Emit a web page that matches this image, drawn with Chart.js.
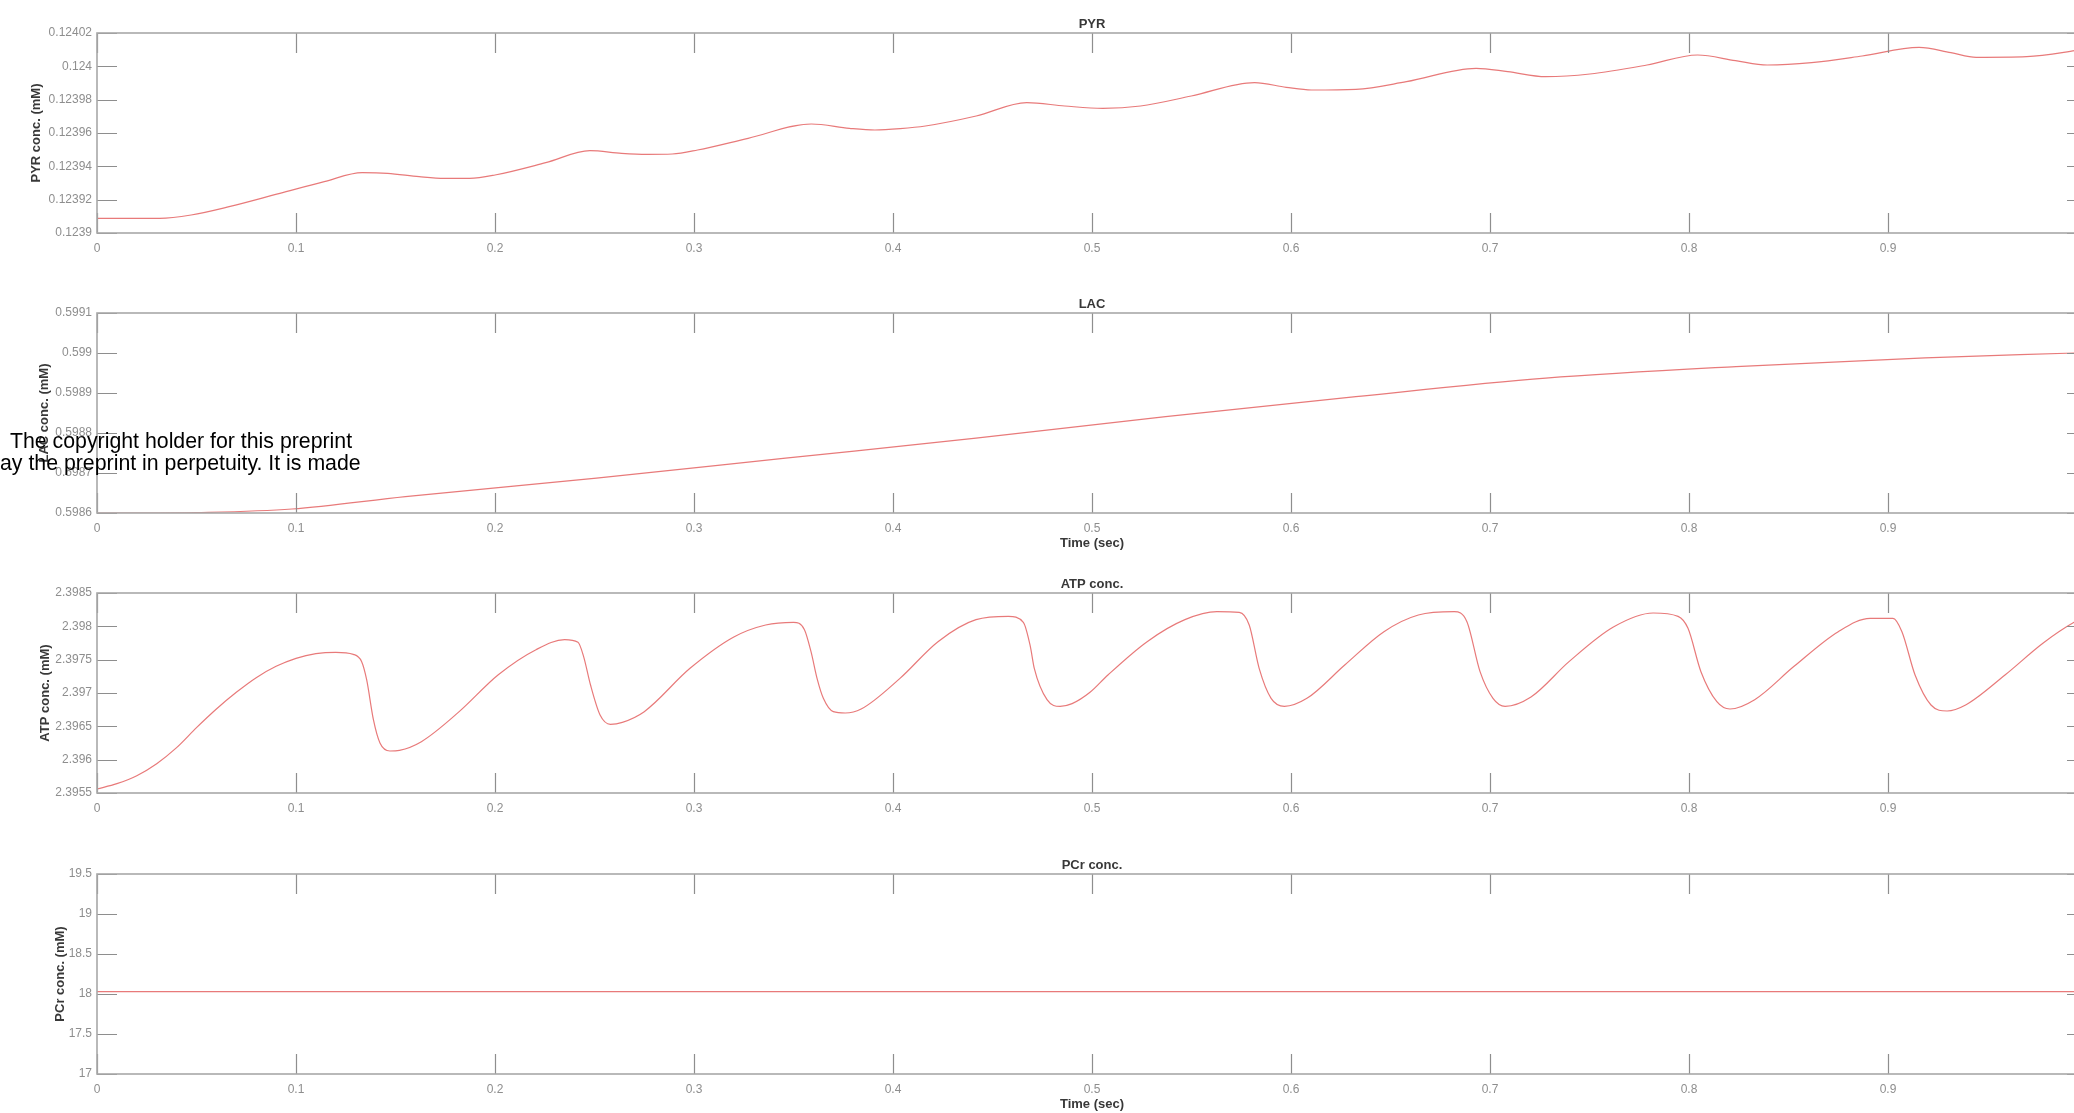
<!DOCTYPE html>
<html>
<head>
<meta charset="utf-8">
<title>Metabolite concentrations over time</title>
<script src="https://cdn.jsdelivr.net/npm/chart.js@4.4.1/dist/chart.umd.min.js"></script>
<style>
  html, body { margin: 0; padding: 0; background: #fff; overflow: hidden; width: 2074px; height: 1113px; }
  .panel { position: absolute; left: 0; }
  .note { position: absolute; font-family: "Liberation Sans", Arial, sans-serif; font-size: 21.3px; line-height: 22px; color: #000; white-space: nowrap; }
</style>
</head>
<body>
<div class="panel" style="top:0px"><canvas id="pyr" width="2088" height="280"></canvas></div>
<div class="panel" style="top:280px"><canvas id="lac" width="2088" height="280"></canvas></div>
<div class="panel" style="top:560px"><canvas id="atp" width="2088" height="280"></canvas></div>
<div class="panel" style="top:841px"><canvas id="pcr" width="2088" height="280"></canvas></div>
<div class="note" style="left:10px; top:430px">The copyright holder for this preprint</div>
<div class="note" style="left:0px; top:452px">ay the preprint in perpetuity. It is made</div>
<script>
// Time axis (seconds)
const timeTicks = [0, 0.1, 0.2, 0.3, 0.4, 0.5, 0.6, 0.7, 0.8, 0.9];
const timeTickLabels = ['0', '0.1', '0.2', '0.3', '0.4', '0.5', '0.6', '0.7', '0.8', '0.9'];

// Pyruvate (mM)
const pyrTime = [0, 0.0029, 0.0315, 0.0473, 0.0664, 0.0919, 0.1142, 0.1333, 0.146, 0.1619, 0.1746, 0.1873,
  0.2, 0.2255, 0.2477, 0.2636, 0.2764, 0.2891, 0.3018, 0.3272, 0.359, 0.3781, 0.3909, 0.4036, 0.4163,
  0.4418, 0.4672, 0.4863, 0.5054, 0.5244, 0.5499, 0.5817, 0.5976, 0.6103, 0.6326, 0.658, 0.693, 0.7089,
  0.728, 0.7502, 0.7789, 0.8043, 0.8234, 0.8393, 0.8616, 0.887, 0.9156, 0.9316, 0.9443, 0.9697, 0.9939, 1.0];
const pyrConc = [0.1239088, 0.1239088, 0.1239088, 0.1239108, 0.1239158, 0.1239238, 0.1239308, 0.1239362,
  0.1239358, 0.1239338, 0.1239328, 0.1239328, 0.1239348, 0.1239422, 0.1239494, 0.1239478, 0.1239472,
  0.1239474, 0.1239498, 0.1239568, 0.1239654, 0.1239628, 0.1239618, 0.1239626, 0.1239642, 0.1239702,
  0.1239782, 0.1239762, 0.1239748, 0.1239762, 0.1239822, 0.1239902, 0.1239874, 0.1239858, 0.1239862,
  0.1239908, 0.1239988, 0.1239968, 0.1239938, 0.1239954, 0.1240008, 0.1240068, 0.1240034, 0.1240008,
  0.1240022, 0.1240062, 0.1240114, 0.1240082, 0.1240054, 0.1240058, 0.1240094, 0.1240106];
const pyrTicks = [0.1239, 0.12392, 0.12394, 0.12396, 0.12398, 0.124, 0.12402];
const pyrTickLabels = ['0.1239', '0.12392', '0.12394', '0.12396', '0.12398', '0.124', '0.12402'];

// Lactate (mM)
const lacTime = [0, 0.03, 0.05, 0.098, 0.155, 0.251, 0.346, 0.4417, 0.537, 0.6326, 0.728, 0.8236, 0.9186, 0.994, 1.0];
const lacConc = [0.5986, 0.5986, 0.598601, 0.59861, 0.598641, 0.598687, 0.598737, 0.598787, 0.598841,
  0.598891, 0.598937, 0.598966, 0.598988, 0.5990, 0.599001];
const lacTicks = [0.5986, 0.5987, 0.5988, 0.5989, 0.599, 0.5991];
const lacTickLabels = ['0.5986', '0.5987', '0.5988', '0.5989', '0.599', '0.5991'];

// ATP (mM)
const atpTime = [0, 0.01, 0.02, 0.03, 0.04, 0.05, 0.06, 0.07, 0.08, 0.09, 0.1, 0.11, 0.12, 0.1288, 0.133, 0.1355, 0.1389,
  0.1422, 0.1472, 0.152, 0.163, 0.182, 0.2015, 0.2206, 0.235, 0.2417, 0.2445, 0.248, 0.2528, 0.258, 0.264,
  0.275, 0.298, 0.32, 0.336, 0.35, 0.3555, 0.3588, 0.362, 0.365, 0.37, 0.376, 0.384, 0.4035, 0.4226,
  0.4417, 0.458, 0.4655, 0.469, 0.471, 0.4774, 0.484, 0.49, 0.499, 0.508, 0.5277, 0.5467, 0.5628, 0.574,
  0.579, 0.584, 0.59, 0.5967, 0.608, 0.627, 0.6467, 0.664, 0.682, 0.6884, 0.695, 0.7015, 0.7076, 0.7206,
  0.7397, 0.762, 0.782, 0.7945, 0.7995, 0.806, 0.814, 0.8206, 0.833, 0.8528, 0.875, 0.891, 0.9025, 0.907,
  0.9136, 0.9216, 0.9297, 0.939, 0.9588, 0.978, 0.9935, 1.0];
const atpConc = [2.39556, 2.39564, 2.39576, 2.39594, 2.39618, 2.39648, 2.39676, 2.39701, 2.39723, 2.3974,
  2.39752, 2.39759, 2.39761, 2.39758, 2.39747,
  2.3972, 2.3966, 2.39625, 2.39613, 2.39614, 2.39627, 2.39672, 2.39727, 2.39765, 2.3978, 2.39776, 2.39755,
  2.39712, 2.39667, 2.39653, 2.39656, 2.39672, 2.39737, 2.39784, 2.39802, 2.39806, 2.39795, 2.39762,
  2.3972, 2.39692, 2.39672, 2.3967, 2.39676, 2.39722, 2.39777, 2.3981, 2.39815, 2.39806, 2.3977, 2.39737,
  2.3969, 2.3968, 2.39684, 2.39701, 2.39727, 2.39777, 2.3981, 2.39822, 2.39821, 2.39802, 2.39737, 2.39692,
  2.3968, 2.39692, 2.39742, 2.39792, 2.39817, 2.39822, 2.39807, 2.39732, 2.39692, 2.3968, 2.39694, 2.39747,
  2.39799, 2.3982, 2.39815, 2.39797, 2.39732, 2.39687, 2.39676, 2.3969, 2.3974, 2.39792, 2.39812, 2.39812,
  2.39792, 2.39727, 2.39682, 2.39673, 2.39682, 2.39727, 2.39775, 2.39806, 2.39815];
const atpTicks = [2.3955, 2.396, 2.3965, 2.397, 2.3975, 2.398, 2.3985];
const atpTickLabels = ['2.3955', '2.396', '2.3965', '2.397', '2.3975', '2.398', '2.3985'];

// Phosphocreatine (mM)
const pcrTime = [0, 1.0];
const pcrConc = [18.03, 18.03];
const pcrTicks = [17, 17.5, 18, 18.5, 19, 19.5];
const pcrTickLabels = ['17', '17.5', '18', '18.5', '19', '19.5'];

Chart.defaults.font.family = "'Liberation Sans', Arial, Helvetica, sans-serif";
Chart.defaults.animation = false;

const LINE_COLOR = 'rgb(232, 122, 122)';
const AXIS_COLOR = '#a8a8a8';
const TICK_COLOR = '#8e8e8e';
const LABEL_COLOR = '#8e8e8e';
const TITLE_COLOR = '#383838';
const TICK_LEN = 20;

// Boxed axes with inward tick marks on all four sides
const boxAxes = {
  id: 'boxAxes',
  afterDraw(chart) {
    const { ctx, chartArea: { left, right, top, bottom }, scales: { x, y } } = chart;
    ctx.save();
    ctx.strokeStyle = TICK_COLOR;
    ctx.lineWidth = 1.2;
    ctx.beginPath();
    x.ticks.forEach(t => {
      const px = Math.round(x.getPixelForValue(t.value)) + 0.5;
      ctx.moveTo(px, bottom); ctx.lineTo(px, bottom - TICK_LEN);
      ctx.moveTo(px, top); ctx.lineTo(px, top + TICK_LEN);
    });
    y.ticks.forEach(t => {
      const py = Math.round(y.getPixelForValue(t.value)) + 0.5;
      ctx.moveTo(left, py); ctx.lineTo(left + TICK_LEN, py);
      ctx.moveTo(right, py); ctx.lineTo(right - TICK_LEN, py);
    });
    ctx.stroke();
    ctx.strokeStyle = AXIS_COLOR;
    ctx.lineWidth = 1.6;
    ctx.strokeRect(left, top, right - left, bottom - top);
    ctx.restore();
  }
};

function makePanel(id, cfg) {
  const points = cfg.time.map((t, i) => ({ x: t, y: cfg.values[i] }));
  return new Chart(document.getElementById(id), {
    type: 'line',
    data: {
      datasets: [{
        data: points,
        borderColor: LINE_COLOR,
        borderWidth: 1.2,
        pointRadius: 0,
        fill: false,
        cubicInterpolationMode: 'monotone'
      }]
    },
    options: {
      responsive: false,
      layout: { padding: { left: 0, right: 1, top: 0, bottom: 0 } },
      plugins: {
        legend: { display: false },
        tooltip: { enabled: false },
        title: {
          display: true,
          text: cfg.title,
          fullSize: false,
          color: TITLE_COLOR,
          font: { size: 13, weight: 'bold' },
          padding: { top: 16.2, bottom: 1.2 }
        }
      },
      scales: {
        x: {
          type: 'linear',
          min: 0,
          max: 1,
          grid: { display: false, drawTicks: false },
          border: { display: false },
          afterBuildTicks: s => { s.ticks = timeTicks.map(v => ({ value: v })); },
          afterFit: s => { s.height = 47; },
          ticks: {
            color: LABEL_COLOR,
            font: { size: 12 },
            padding: 8,
            maxRotation: 0,
            autoSkip: false,
            callback: (v, i) => timeTickLabels[i]
          },
          title: {
            display: cfg.showTime,
            text: 'Time (sec)',
            color: TITLE_COLOR,
            font: { size: 13, weight: 'bold' },
            padding: { top: 0, bottom: 9.2 }
          }
        },
        y: {
          type: 'linear',
          min: cfg.ticks[0],
          max: cfg.ticks[cfg.ticks.length - 1],
          grid: { display: false, drawTicks: false },
          border: { display: false },
          afterBuildTicks: s => { s.ticks = cfg.ticks.map(v => ({ value: v })); },
          afterFit: s => { s.width = 97; },
          ticks: {
            color: LABEL_COLOR,
            font: { size: 12 },
            padding: 5,
            autoSkip: false,
            callback: (v, i) => cfg.tickLabels[i]
          },
          title: {
            display: true,
            text: cfg.yTitle,
            color: TITLE_COLOR,
            font: { size: 13, weight: 'bold' },
            padding: { top: cfg.yTitleOffset, bottom: 0 }
          }
        }
      }
    },
    plugins: [boxAxes]
  });
}

makePanel('pyr', { title: 'PYR', yTitle: 'PYR conc. (mM)', yTitleOffset: 28.2, showTime: false,
  time: pyrTime, values: pyrConc, ticks: pyrTicks, tickLabels: pyrTickLabels });
makePanel('lac', { title: 'LAC', yTitle: 'LAC conc. (mM)', yTitleOffset: 36.2, showTime: true,
  time: lacTime, values: lacConc, ticks: lacTicks, tickLabels: lacTickLabels });
makePanel('atp', { title: 'ATP conc.', yTitle: 'ATP conc. (mM)', yTitleOffset: 37.2, showTime: false,
  time: atpTime, values: atpConc, ticks: atpTicks, tickLabels: atpTickLabels });
makePanel('pcr', { title: 'PCr conc.', yTitle: 'PCr conc. (mM)', yTitleOffset: 52.2, showTime: true,
  time: pcrTime, values: pcrConc, ticks: pcrTicks, tickLabels: pcrTickLabels });
</script>
</body>
</html>
